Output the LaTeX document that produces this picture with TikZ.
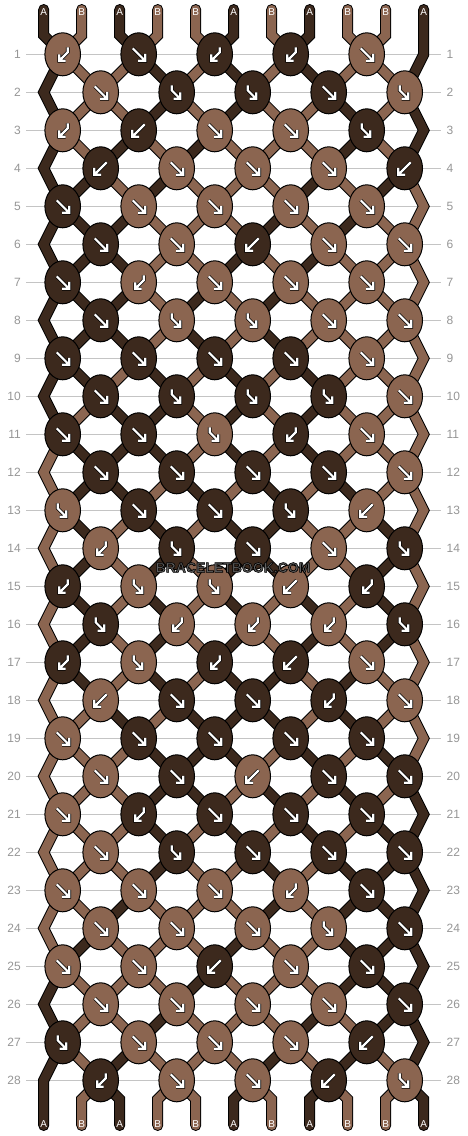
\documentclass[tikz,border=0pt]{standalone}
\usepackage{fontspec}
\setmainfont{Liberation Sans}
\usetikzlibrary{shapes.geometric}
\definecolor{cola}{RGB}{60,41,29}
\definecolor{colb}{RGB}{139,101,80}
\definecolor{rowgrey}{RGB}{150,150,150}
\definecolor{linegrey}{RGB}{196,196,196}
\definecolor{wmgrey}{RGB}{95,95,95}
\tikzset{
  glyph/.style={draw=black, line width=0.7pt, double=white, double distance=2.2pt},
  arrf/.pic={\draw[glyph] (-6,-6) -- (5.8,5.8) (6.5,-0.5) -- (6.5,6.5) -- (-0.5,6.5);},
  arrb/.pic={\draw[glyph] (6,-6) -- (-5.8,5.8) (-6.5,-0.5) -- (-6.5,6.5) -- (0.5,6.5);},
  arrfb/.pic={\draw[glyph] (-5,-7) -- (-5,-2) -- (3,6) (3.5,0) -- (3.5,6.5) -- (-3,6.5);},
  arrbf/.pic={\draw[glyph] (5,-7) -- (5,-2) -- (-3,6) (-3.5,0) -- (-3.5,6.5) -- (3,6.5);},
}
\begin{document}
\begin{tikzpicture}[x=1pt, y=-1pt,
  thread/.style={draw=black, line width=1pt, double distance=9pt, line cap=round, miter limit=10},
  knot/.style={ellipse, draw=black, line width=1pt, minimum width=35.6pt, minimum height=43pt, inner sep=0pt},
  rowno/.style={text=rowgrey, font=\fontsize{12}{12}\selectfont, inner sep=0pt},
  rowline/.style={draw=linegrey, line width=1pt},
  strlbl/.style={text=white, font=\fontsize{10}{10}\selectfont, inner sep=0pt},
  wm/.style={font=\bfseries\fontsize{14}{14}\selectfont, inner sep=0pt}]
\fill[white] (0,0) rectangle (468,1136);
\useasboundingbox (0,0) rectangle (468,1136);

% row numbers and guide lines
\foreach \r in {1,...,28} {
  \pgfmathsetmacro\y{16.3+38*\r}
  \node[rowno, anchor=east] (ll\r) at (21,\y) {\r};
  \node[rowno, anchor=west] (lr\r) at (446.5,\y) {\r};
  \draw[rowline, shorten <=5pt, shorten >=5.5pt] (ll\r.east) -- (lr\r.west);
}

% knot centres and edge turns
\foreach \r in {1,...,28} {
  \pgfmathsetmacro\y{16.3+38*\r}
  \pgfmathsetmacro\dx{38*mod(\r+1,2)}
  \foreach \k in {1,...,5}
    \coordinate (c\r-\k) at ({-13.3+76*\k+\dx},\y);
  \coordinate (el\r) at (43.7,\y);
  \coordinate (er\r) at (423.7,\y);
}

% thread ends
\foreach \p in {1,...,11} {
  \pgfmathsetmacro\x{5.7+38*\p}
  \coordinate (ts\p) at (\x,9.5);
  \coordinate (tb\p) at (\x,35.3);
  \coordinate (bb\p) at (\x,1099.3);
  \coordinate (be\p) at (\x,1125.5);
}

% threads, one colour list per stage
\foreach \st [count=\s from 0] in {
  {a,b,a,b,b,a,b,a,b,b,a},{a,b,b,a,b,a,b,a,b,b,a},{a,b,b,a,b,a,b,b,a,b,a},
  {a,b,a,b,a,b,b,b,a,b,a},{a,a,b,a,b,b,b,a,b,a,b},{a,a,a,b,b,b,a,b,a,b,b},
  {a,a,a,b,b,a,b,a,b,b,b},{a,a,a,b,a,b,a,b,b,b,b},{a,a,a,b,a,b,a,b,b,b,b},
  {a,a,b,a,b,a,b,a,b,b,b},{a,b,a,a,b,a,b,a,b,b,b},{b,a,a,a,b,a,b,a,b,b,b},
  {b,a,a,b,a,b,a,b,a,b,b},{b,a,b,a,b,a,a,b,b,a,b},{b,a,b,a,b,a,a,b,b,a,b},
  {b,a,b,a,b,a,b,a,b,a,b},{b,a,b,a,b,a,b,a,b,a,b},{b,a,b,a,b,a,a,b,a,b,b},
  {b,b,a,b,a,a,a,b,a,b,b},{b,b,b,a,a,a,b,a,b,a,b},{b,b,b,a,a,b,a,b,a,b,a},
  {b,b,b,a,b,a,b,a,b,a,a},{b,b,b,a,b,b,a,b,a,a,a},{b,b,a,b,b,b,a,b,a,a,a},
  {b,a,b,b,b,a,b,b,a,a,a},{a,b,b,b,a,b,b,b,a,a,a},{a,b,b,a,b,b,b,a,b,a,a},
  {a,b,a,b,b,b,a,b,a,b,a},{a,b,a,b,b,a,b,a,b,b,a}} {
  \pgfmathtruncatemacro\n{\s+1}
  \pgfmathtruncatemacro\nn{\s+2}
  \pgfmathtruncatemacro\odd{mod(\s,2)}
  \foreach \c [count=\p] in \st {
    \pgfmathtruncatemacro\up{ceil(\p/2)}
    \pgfmathtruncatemacro\dn{floor(\p/2)}
    \ifnum\s=0
      \ifnum\p<11
        \draw[thread, double=col\c] (ts\p) -- (tb\p) -- (c1-\up);
      \else
        \draw[thread, double=col\c] (ts\p) -- (er1) -- (c2-5);
      \fi
    \else\ifnum\s=28
      \ifnum\p>1
        \draw[thread, double=col\c] (c28-\dn) -- (bb\p) -- (be\p);
      \fi
    \else\ifnum\odd=1
      \ifnum\p=1
        \ifnum\s<27
          \draw[thread, double=col\c] (c\s-1) -- (el\n) -- (c\nn-1);
        \else
          \draw[thread, double=col\c] (c\s-1) -- (el\n) -- (be1);
        \fi
      \else\ifnum\p<11
        \draw[thread, double=col\c] (c\s-\up) -- (c\n-\dn);
      \fi\fi
    \else
      \ifnum\p=11
        \draw[thread, double=col\c] (c\s-5) -- (er\n) -- (c\nn-5);
      \else\ifnum\p>1
        \draw[thread, double=col\c] (c\s-\dn) -- (c\n-\up);
      \fi\fi
    \fi\fi\fi
  }
}

% knots: type/colour
\foreach \row [count=\r] in {
  {bf/b,f/a,bf/a,bf/a,f/b},{f/b,fb/a,fb/a,f/a,fb/b},{bf/b,b/a,f/b,f/b,fb/a},
  {b/a,f/b,f/b,f/b,b/a},{f/a,f/b,f/b,f/b,f/b},{f/a,f/b,b/a,f/b,f/b},
  {f/a,bf/b,f/b,f/b,f/b},{f/a,fb/b,fb/b,f/b,f/b},{f/a,f/a,f/a,f/a,f/b},
  {f/a,fb/a,fb/a,fb/a,f/b},{f/a,f/a,fb/b,bf/a,f/b},{f/a,f/a,f/a,f/a,f/b},
  {fb/b,f/a,f/a,fb/a,b/b},{bf/b,fb/a,f/a,f/b,fb/a},{bf/a,fb/b,fb/b,b/b,bf/a},
  {fb/a,bf/b,bf/b,bf/b,fb/a},{bf/a,fb/b,bf/a,b/a,f/b},{b/b,f/a,f/a,bf/a,f/b},
  {f/b,f/a,f/a,f/a,f/a},{f/b,f/a,b/b,f/a,f/a},{f/b,bf/a,f/a,f/a,f/a},
  {f/b,fb/a,f/a,f/a,f/a},{f/b,f/b,f/b,bf/b,f/a},{f/b,f/b,f/b,fb/b,f/a},
  {f/b,f/b,b/a,f/b,f/a},{f/b,f/b,f/b,f/b,f/a},{fb/a,f/b,f/b,f/b,b/a},
  {bf/a,f/b,f/b,b/a,fb/b}} {
  \foreach \t/\c [count=\k] in \row {
    \node[knot, fill=col\c] (k\r-\k) at (c\r-\k) {};
    \pic at (k\r-\k) {arr\t};
  }
}

% string letters
\foreach \lbl [count=\p] in {A,B,A,B,B,A,B,A,B,B,A} {
  \pgfmathsetmacro\x{5.7+38*\p}
  \node[strlbl] (top\p) at (\x,12.5) {\lbl};
  \node[strlbl] (bot\p) at (\x,1124.5) {\lbl};
}

% watermark, grey fill with a dark rim
\node[wm, text=wmgrey] (wm) at (233,567.5)
  {\special{pdf:literal direct 2 Tr 0.6 w 0 0 0 RG}BRACELETBOOK.COM\special{pdf:literal direct 0 Tr}};
\end{tikzpicture}
\end{document}
